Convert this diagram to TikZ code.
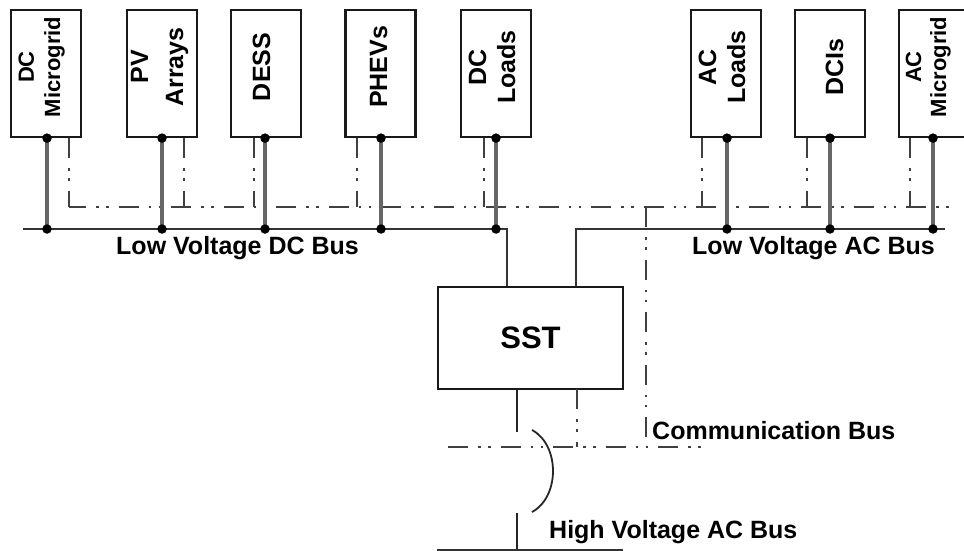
\documentclass[tikz,border=0pt]{standalone}
\usepackage{fontspec}
\setmainfont{Liberation Sans}
\usetikzlibrary{calc}
\tikzset{
  box/.style={draw=black!90, line width=2.2pt, minimum width=70pt, minimum height=127pt, inner sep=0pt},
  lbl/.style={font=\fontsize{25}{30}\selectfont\bfseries, rotate=90, anchor=base, inner sep=0pt},
  lblsmall/.style={lbl, font=\fontsize{22}{26}\selectfont\bfseries},
  pwr/.style={draw=black!60, line width=3.4pt},
  bus/.style={draw=black!80, line width=2.6pt},
  thinl/.style={draw=black!85, line width=2.2pt},
  comm/.style={draw=black!75, line width=2.2pt, dash pattern=on 20pt off 10pt on 2.5pt off 7.5pt on 2.5pt off 10pt},
  jdot/.style={circle, fill=black, inner sep=0pt, minimum size=9.5pt},
  buslbl/.style={font=\fontsize{25}{30}\selectfont\bfseries, inner sep=0pt, anchor=base west},
}
\begin{document}
\begin{tikzpicture}[x=1pt, y=-1pt]
\useasboundingbox (0,0) rectangle (964,551);

% source / load boxes
\node[box] (dcm)  at (46,73.5)  {};
\node[box] (pv)   at (162,73.5) {};
\node[box] (dess) at (266,73.5) {};
\node[box] (phev) at (380.5,73.5) {};
\node[box] (dcl)  at (496,73.5) {};
\node[box] (acl)  at (726,73.5) {};
\node[box] (dci)  at (830,73.5) {};
\node[box] (acm)  at (934,73.5) {};

% box labels
\node[lblsmall] (t-dcm1) at (34,67) {DC};
\node[lblsmall] (t-dcm2) at (60,67) {Microgrid};
\node[lbl] (t-pv1) at (148,67) {PV};
\node[lbl] (t-pv2) at (183,67) {Arrays};
\node[lbl] (t-dess) at (270,67) {DESS};
\node[lbl] (t-phev) at (387,67) {PHEVs};
\node[lbl] (t-dcl1) at (486,67) {DC};
\node[lbl] (t-dcl2) at (515,67) {Loads};
\node[lbl] (t-acl1) at (716,67) {AC};
\node[lbl] (t-acl2) at (745,67) {Loads};
\node[lbl] (t-dci) at (843,67) {DCIs};
\node[lblsmall] (t-acm1) at (921,67) {AC};
\node[lblsmall] (t-acm2) at (946,67) {Microgrid};

% SST
\node[draw=black!90, line width=2.2pt, minimum width=185pt, minimum height=102pt, inner sep=0pt,
      font=\fontsize{31}{36}\selectfont\bfseries] (sst) at (530.5,338) {SST};

% bus coordinates
\coordinate (dcbusL) at (23,229);
\coordinate (dcbusR) at (507,229);
\coordinate (acbusL) at (576,229);
\coordinate (acbusR) at (945,229);
\coordinate (commL) at (69,207);
\coordinate (commR) at (955,207);
\coordinate (comm2L) at (448,447);
\coordinate (comm2R) at (703,447);
\coordinate (commV) at (646,207);
\coordinate (hvL) at (437,550);
\coordinate (hvR) at (623,550);
\coordinate (hvdropTop) at (517,513);
\coordinate (sstdrop) at (517,432);
\coordinate (sstcomm) at (577,389);
\coordinate (hopA) at (532,430);
\coordinate (hopB) at (532,512);

% communication bus
\draw[comm, dash phase=3pt] (commL) -- (commR);
\foreach \b/\dx in {dcm/23, pv/22, dess/-12, phev/-23.5, dcl/-12, acl/-24, dci/-23, acm/-24}{
  \coordinate (\b-c) at ($(\b.south)+(\dx,0)$);
  \draw[comm] (\b-c) -- (\b-c |- commL);
}
\draw[comm] (commV) -- (commV |- comm2L);
\draw[comm] (comm2L) -- (comm2R);
\draw[comm] (sstcomm) -- (sstcomm |- comm2L);

% power buses and drops
\draw[bus] (dcbusL) -- (dcbusR) -- (dcbusR |- sst.north);
\draw[bus] (acbusR) -- (acbusL) -- (acbusL |- sst.north);
\foreach \b/\dx in {dcm/1, pv/0, dess/-1, phev/0.5, dcl/0}{
  \coordinate (\b-p) at ($(\b.south)+(\dx,0)$);
  \draw[pwr] (\b-p) -- (\b-p |- dcbusL);
  \node[jdot] at (\b-p) {};
  \node[jdot] at (\b-p |- dcbusL) {};
}
\foreach \b/\dx in {acl/1, dci/0, acm/-1}{
  \coordinate (\b-p) at ($(\b.south)+(\dx,0)$);
  \draw[pwr] (\b-p) -- (\b-p |- acbusL);
  \node[jdot] at (\b-p) {};
  \node[jdot] at (\b-p |- acbusL) {};
}

% SST to high voltage bus with hop
\draw[thinl] (sstdrop |- sst.south) -- (sstdrop);
\draw[thinl, line width=1.8pt] (hopA) .. controls (560,445) and (560,497) .. (hopB);
\draw[thinl] (hvdropTop) -- (hvdropTop |- hvL);
\draw[bus] (hvL) -- (hvR);

% bus labels
\node[buslbl] (l-dc) at (116,254) {Low Voltage DC Bus};
\node[buslbl] (l-ac) at (692,254) {Low Voltage AC Bus};
\node[buslbl] (l-comm) at (652,439) {Communication Bus};
\node[buslbl] (l-hv) at (549,538) {High Voltage AC Bus};
\end{tikzpicture}
\end{document}
